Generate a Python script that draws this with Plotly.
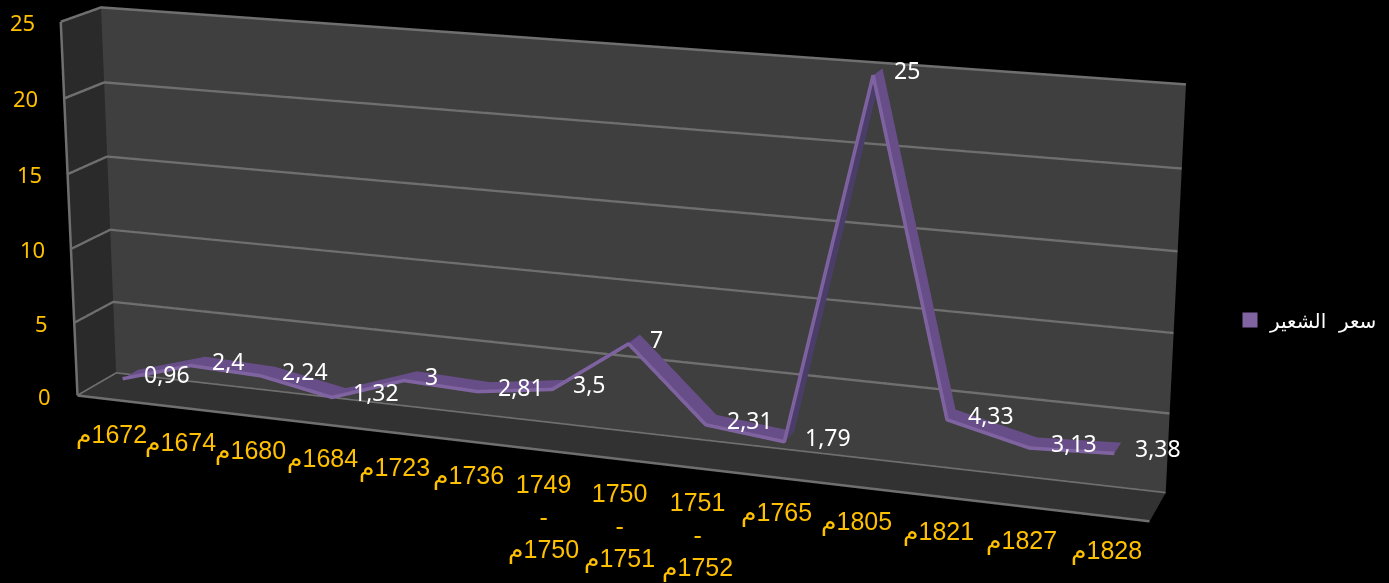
import math
import plotly.graph_objects as go

# Series: price of barley by year
SERIES_NAME = "سعر  الشعير"
CATEGORIES = ["1672م", "1674م", "1680م", "1684م", "1723م", "1736م",
              "1749<br>-<br>1750م", "1750<br>-<br>1751م", "1751<br>-<br>1752م",
              "1765م", "1805م", "1821م", "1827م", "1828م"]
VALUES = [0.96, 2.4, 2.24, 1.32, 3, 2.81, 3.5, 7, 2.31, 1.79, 25, 4.33, 3.13, 3.38]
VALUE_TICKS = [0, 5, 10, 15, 20, 25]

GOLD = "#ffc000"
GRID = "#6f6f6f"
RIBBON_TOP = "#684e88"
RIBBON_UNDER = "#4b3d69"
RIBBON_EDGE = "#8064a2"
NUM_FONT = "Noto Sans"
CAT_FONT = "Liberation Sans, DejaVu Sans"

# The plot canvas is much taller than the window: plotly's field of view is
# fixed, so only a tall canvas gives the shallow perspective of this chart.
CANVAS_W, CANVAS_H = 1389, 2600
SCENE_W = 1192
PAGE_OFFSET = 1050

ROT_X, ROT_Y = math.radians(15), math.radians(20)
EYE_DIST = 2.75
eye = dict(x=EYE_DIST * math.cos(ROT_X) * math.sin(ROT_Y),
           y=-EYE_DIST * math.cos(ROT_X) * math.cos(ROT_Y),
           z=EYE_DIST * math.sin(ROT_X))

n = len(VALUES)
xs = [i + 0.5 for i in range(n)]
Y_FRONT, Y_BACK = 0.3, 0.7
X_MAX, Z_MAX = n, VALUE_TICKS[-1]

# Ribbon surface: one quad per segment between neighbouring categories
rx, ry, rz = [], [], []
for x, v in zip(xs, VALUES):
    rx += [x, x]
    ry += [Y_FRONT, Y_BACK]
    rz += [v, v]
ti, tj, tk, face = [], [], [], []
for s in range(n - 1):
    a, b, c, d = 2 * s, 2 * s + 1, 2 * s + 2, 2 * s + 3
    ti += [a, b]
    tj += [b, d]
    tk += [c, c]
    col = RIBBON_UNDER if VALUES[s + 1] - VALUES[s] > 3 else RIBBON_TOP
    face += [col, col]

fig = go.Figure()

# Horizontal grid running over the left and back walls
for t in VALUE_TICKS:
    fig.add_trace(go.Scatter3d(x=[0, 0, X_MAX], y=[0, 1, 1], z=[t, t, t], mode="lines",
                               line=dict(color=GRID, width=5), hoverinfo="skip", showlegend=False))

# Remaining outline of the walls and the floor
frame = [((0, 0, 0), (X_MAX, 0, 0)), ((0, 0, 0), (0, 0, Z_MAX))]
for p, q in frame:
    fig.add_trace(go.Scatter3d(x=[p[0], q[0]], y=[p[1], q[1]], z=[p[2], q[2]], mode="lines",
                               line=dict(color=GRID, width=5), hoverinfo="skip", showlegend=False))

fig.add_trace(go.Mesh3d(x=rx, y=ry, z=rz, i=ti, j=tj, k=tk, facecolor=face,
                        flatshading=True, hoverinfo="skip", showlegend=False,
                        lighting=dict(ambient=1, diffuse=0, specular=0, fresnel=0, roughness=1)))
fig.add_trace(go.Scatter3d(x=xs, y=[Y_FRONT] * n, z=VALUES, mode="lines",
                           line=dict(color=RIBBON_EDGE, width=7),
                           hoverinfo="skip", showlegend=False))

# Legend entry
fig.add_trace(go.Scatter3d(x=[None], y=[None], z=[None], mode="markers", name=SERIES_NAME,
                           marker=dict(symbol="square", size=15, color=RIBBON_EDGE),
                           hoverinfo="skip", showlegend=True))

notes = []
for t in VALUE_TICKS:
    notes.append(dict(x=0, y=0, z=t, text=str(t), showarrow=False, xanchor="right", yanchor="middle",
                      xshift=-24, yshift=0, font=dict(family=NUM_FONT, size=22, color=GOLD)))
for x, c in zip(xs, CATEGORIES):
    notes.append(dict(x=x, y=0, z=0, text="\u200f" + c.replace("<br>", "<br>\u200f"), showarrow=False,
                      xanchor="center", yanchor="top", yshift=-18, xshift=0,
                      font=dict(family=CAT_FONT, size=25, color=GOLD)))
for x, v in zip(xs, VALUES):
    notes.append(dict(x=x, y=Y_FRONT, z=v, text=f"{v:g}".replace(".", ","), showarrow=False,
                      xanchor="left", yanchor="middle", xshift=19, yshift=5,
                      font=dict(family=NUM_FONT, size=23, color="#ffffff")))

hidden_axis = dict(showticklabels=False, ticks="", showspikes=False, title="", zeroline=False,
                   showline=False, showbackground=True, showgrid=False)
fig.update_layout(
    width=CANVAS_W, height=CANVAS_H, autosize=False,
    margin=dict(l=0, r=0, t=0, b=0, pad=0),
    paper_bgcolor="#000000", plot_bgcolor="#000000",
    showlegend=True,
    legend=dict(x=1230 / CANVAS_W, y=1 - (PAGE_OFFSET + 320) / CANVAS_H, xanchor="left", yanchor="middle",
                bgcolor="rgba(0,0,0,0)", font=dict(family="DejaVu Sans", size=20, color="#ffffff")),
    scene=dict(
        domain=dict(x=[0, SCENE_W / CANVAS_W], y=[0, 1]),
        bgcolor="#000000",
        aspectmode="manual", aspectratio=dict(x=1.002, y=0.075, z=0.354),
        camera=dict(eye=eye, center=dict(x=0, y=0, z=0), up=dict(x=0, y=0, z=1),
                    projection=dict(type="perspective")),
        xaxis=dict(range=[0, X_MAX], backgroundcolor="#2a2a2a", **hidden_axis),
        yaxis=dict(range=[0, 1], backgroundcolor="#3f3f3f", **hidden_axis),
        zaxis=dict(range=[0, Z_MAX], tickvals=VALUE_TICKS, backgroundcolor="#323232", **hidden_axis),
        annotations=notes,
    ),
)

# Bring the part of the canvas that holds the chart to the top of the page
shift = (
    "document.documentElement.style.background='#000';"
    "document.body.style.margin='0';document.body.style.overflow='hidden';"
    "document.documentElement.style.overflow='hidden';"
    f"document.getElementById('{{plot_id}}').style.marginTop='-{PAGE_OFFSET}px';"
)
fig.write_html("out.html", post_script=shift, config=dict(displayModeBar=False, responsive=False))
